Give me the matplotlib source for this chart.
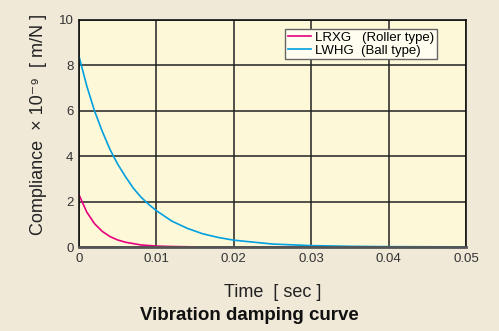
import matplotlib.pyplot as plt

plt.rcParams['font.family'] = ['Liberation Sans', 'DejaVu Sans']

# LWHG (Ball type)
t_ball = [0, 0.001, 0.002, 0.003, 0.004, 0.005, 0.006, 0.007, 0.008, 0.009,
          0.010, 0.012, 0.014, 0.016, 0.018, 0.020, 0.025, 0.030, 0.035,
          0.040, 0.045, 0.050]
c_ball = [8.4, 7.1, 6.0, 5.1, 4.3, 3.65, 3.1, 2.6, 2.2, 1.88,
          1.6, 1.14, 0.82, 0.58, 0.42, 0.30, 0.13, 0.06, 0.03,
          0.015, 0.01, 0.005]

# LRXG (Roller type)
t_roller = [0, 0.001, 0.002, 0.003, 0.004, 0.005, 0.006, 0.008, 0.010, 0.012, 0.015]
c_roller = [2.3, 1.54, 1.03, 0.69, 0.46, 0.31, 0.21, 0.09, 0.04, 0.02, 0.005]

xticks = [0, 0.01, 0.02, 0.03, 0.04, 0.05]
xlabels = ['0', '0.01', '0.02', '0.03', '0.04', '0.05']
yticks = [0, 2, 4, 6, 8, 10]

fig = plt.figure(figsize=(4.99, 3.31), dpi=100, facecolor='#f0e9d8')
ax = fig.add_axes([79 / 499, 1 - 247 / 331, 387 / 499, 227 / 331])
ax.set_facecolor('#fdf8d8')

ax.plot(t_roller, c_roller, color='#e6007e', lw=1.2, label='LRXG   (Roller type)')
ax.plot(t_ball, c_ball, color='#00a0e0', lw=1.2, label='LWHG  (Ball type)')

ax.set_xlim(0, 0.05)
ax.set_ylim(0, 10)
ax.set_xticks(xticks)
ax.set_xticklabels(xlabels)
ax.set_yticks(yticks)
ax.grid(True, color='#222222', lw=1.1)
ax.set_axisbelow(True)
ax.tick_params(length=0, labelsize=9.5, colors='#333333', pad=4)
for s in ax.spines.values():
    s.set_color('#111111')
    s.set_linewidth(1.2)
ax.spines['bottom'].set_color('#555555')
ax.spines['bottom'].set_linewidth(2)

ax.set_xlabel('Time  [ sec ]', fontsize=13, color='#222222', labelpad=14)
ax.set_ylabel('Compliance  \u00d7 10\u207b\u2079  [ m/N ]', fontsize=13,
              color='#222222')
ax.yaxis.set_label_coords(-0.083, 0.54)

leg = ax.legend(loc='upper right', bbox_to_anchor=(0.925, 0.96), fontsize=9.5,
                frameon=True, fancybox=False, framealpha=1, handlelength=1.8,
                handletextpad=0.3, borderpad=0.2, labelspacing=0.05,
                borderaxespad=0)
leg.get_frame().set_facecolor('#fffdf0')
leg.get_frame().set_edgecolor('#666666')

fig.text(0.5, 16 / 331, 'Vibration damping curve', ha='center', va='center',
         fontsize=13.5, fontweight='bold', color='#111111')

plt.savefig('out.png', dpi=100, facecolor=fig.get_facecolor())
